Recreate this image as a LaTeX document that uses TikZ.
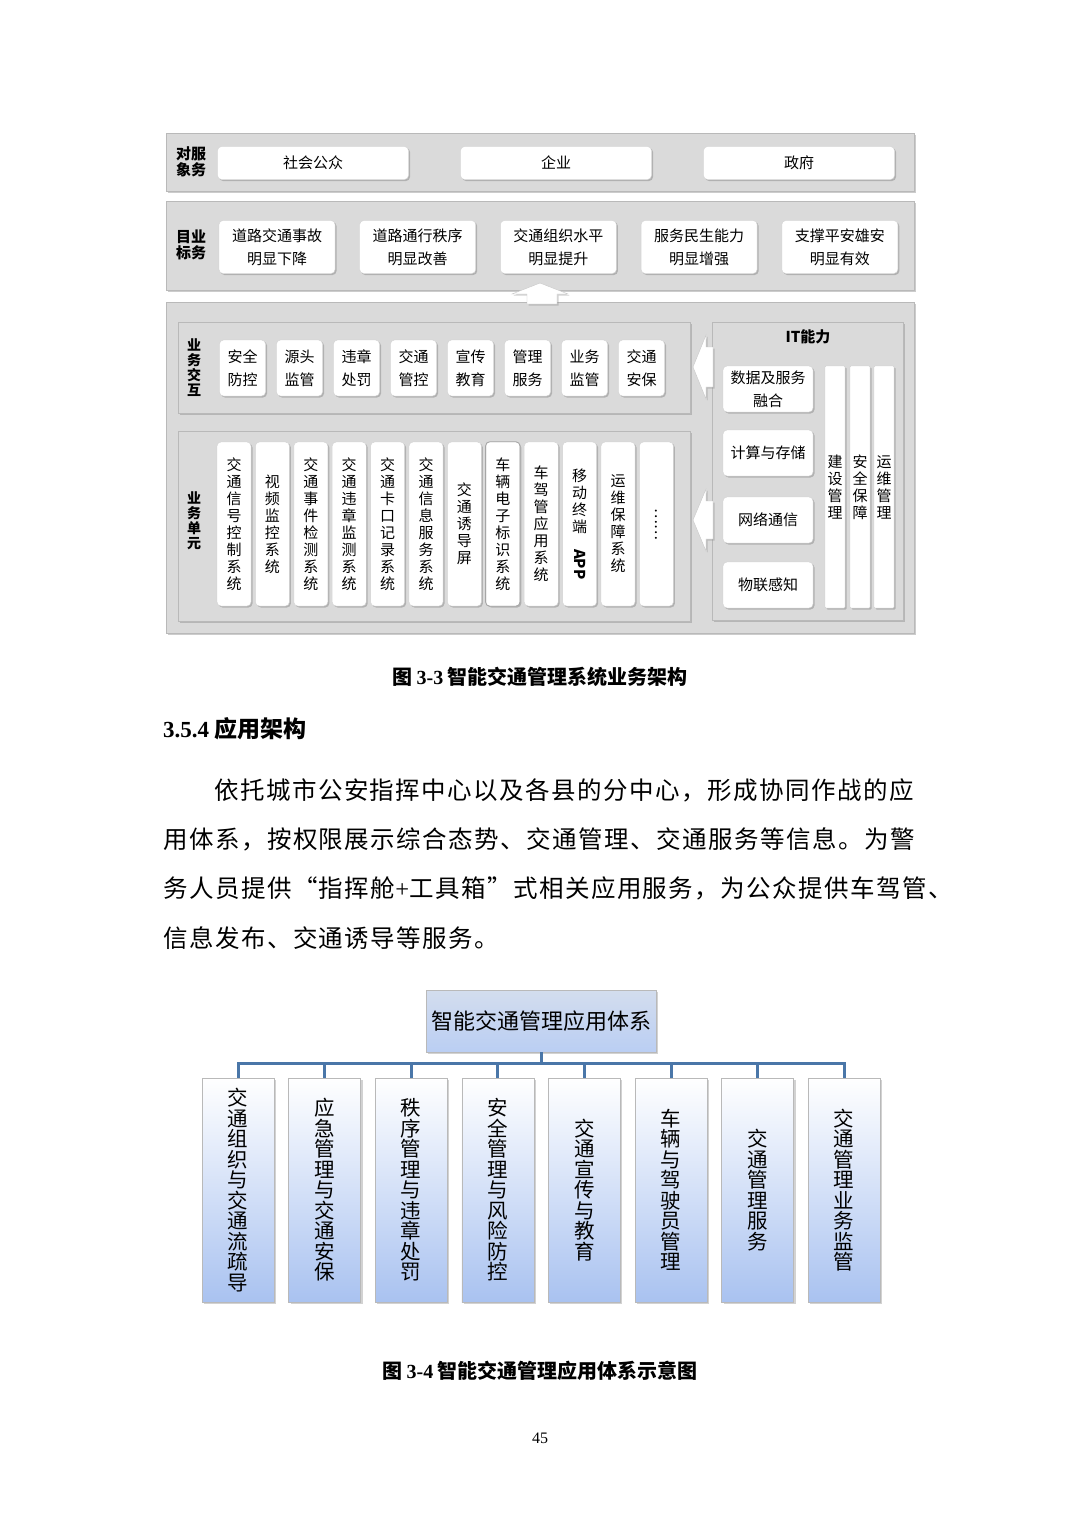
\documentclass[tikz,border=0pt]{standalone}
\usepackage{fontspec}
\setmainfont{Noto Sans CJK SC}
\newfontfamily\tnr{Liberation Serif}
\newfontfamily\bodyfont[LetterSpace=6]{Noto Sans CJK SC}
\usepackage{graphicx}
\usepackage{xcolor}
\usetikzlibrary{shadows,calc}

% stack the characters of a label one under the other
\def\vstack#1{\vstackA#1\relax}
\def\vstackA#1{\ifx\relax#1\else#1\expandafter\vstackB\fi}
\def\vstackB#1{\ifx\relax#1\else\\#1\expandafter\vstackB\fi}

\definecolor{bandgray}{HTML}{DADADA}
\definecolor{busblue}{HTML}{4A76A8}
\definecolor{leafblue}{HTML}{A9C2F0}
\definecolor{roottop}{HTML}{D3DDEE}

\begin{document}
\begin{tikzpicture}[x=1pt, y=-1pt,
  band/.style={draw=gray!55, fill=bandgray, inner sep=0pt,
    drop shadow={shadow xshift=2pt, shadow yshift=-2pt, opacity=.4}},
  cell/.style={draw=gray!35, fill=white, rounded corners=4pt, align=center, inner sep=0pt,
    font=\fontsize{15}{23}\selectfont,
    drop shadow={shadow xshift=1.5pt, shadow yshift=-1.5pt, opacity=.45}},
  col/.style={cell, minimum width=34pt, minimum height=164pt, font=\fontsize{15}{17}\selectfont},
  itcol/.style={cell, rounded corners=1pt, minimum width=20pt, minimum height=242pt, font=\fontsize{15}{17}\selectfont},
  tag/.style={align=center, inner sep=0pt, font=\bfseries\fontsize{15}{15.5}\selectfont},
  blkarr/.style={draw=gray!45, fill=white, drop shadow={shadow xshift=1.5pt, shadow yshift=-1.5pt, opacity=.35}},
  txt/.style={anchor=west, inner sep=0pt, font=\bodyfont\fontsize{24.5}{26}\selectfont},
  root/.style={draw=gray!55, top color=roottop, bottom color=leafblue!80, minimum width=230pt, minimum height=62pt,
    font=\fontsize{22}{22}\selectfont, drop shadow={shadow xshift=2pt, shadow yshift=-2pt, opacity=.35}},
  leaf/.style={draw=gray!55, top color=white, bottom color=leafblue, minimum width=72pt, minimum height=224pt,
    align=center, inner sep=0pt, font=\fontsize{20.5}{20.5}\selectfont,
    drop shadow={shadow xshift=2pt, shadow yshift=-2pt, opacity=.35}},
  bus/.style={draw=busblue, line width=3pt}]

\fill[white] (0,0) rectangle (1080,1526);
\useasboundingbox (0,0) rectangle (1080,1526);

%% figure 3-3
\node[band, minimum width=748pt, minimum height=58pt] (obj) at (540,162) {};
\node[band, minimum width=748pt, minimum height=89pt] (goal) at (540,245.5) {};
\node[band, minimum width=748pt, minimum height=331pt] (biz) at (540,467.5) {};
\node[band, minimum width=512pt, minimum height=91pt] (act) at (434,367.5) {};
\node[band, minimum width=512pt, minimum height=190pt] (unit) at (434,526) {};
\node[band, minimum width=191pt, minimum height=298pt] (itp) at (807.5,471) {};

\node[tag] (objL) at (191,162) {对服\\象务};
\node[tag] (goalL) at (191,245) {目业\\标务};
\node[tag, font=\bfseries\fontsize{14}{15}\selectfont] (actL) at (194,368) {\vstack{业务交互}};
\node[tag, font=\bfseries\fontsize{14}{15}\selectfont] (unitL) at (194,521) {\vstack{业务单元}};
\node[tag] (itL) at (808,337) {IT能力};

\foreach \nm/\x/\t in {pub/313/社会公众, ent/556/企业, gov/799/政府}
  \node[cell, minimum width=191pt, minimum height=33pt] (\nm) at (\x,163) {\t};

\foreach \t [count=\i] in {{道路交通事故\\明显下降}, {道路通行秩序\\明显改善}, {交通组织水平\\明显提升},
    {服务民生能力\\明显增强}, {支撑平安雄安\\明显有效}}
  \node[cell, minimum width=116pt, minimum height=53pt] (g\i) at ({277+140.7*(\i-1)},247) {\t};

\foreach \t [count=\i] in {{安全\\防控}, {源头\\监管}, {违章\\处罚}, {交通\\管控}, {宣传\\教育},
    {管理\\服务}, {业务\\监管}, {交通\\安保}}
  \node[cell, minimum width=46pt, minimum height=56pt] (a\i) at ({242.5+57*(\i-1)},368) {\t};

\foreach \t [count=\i] in {{\vstack{交通信号控制系统}}, {\vstack{视频监控系统}}, {\vstack{交通事件检测系统}},
    {\vstack{交通违章监测系统}}, {\vstack{交通卡口记录系统}}, {\vstack{交通信息服务系统}},
    {\vstack{交通诱导屏}}, {\vstack{车辆电子标识系统}}, {\vstack{车驾管应用系统}},
    {\vstack{移动终端}\\\rotatebox{-90}{\bfseries APP}}, {\vstack{运维保障系统}}, {\rotatebox{-90}{……}}}
  \node[col] (u\i) at ({234+38.4*(\i-1)},524) {\t};
\draw[gray!70, line width=0.8pt, rounded corners=4pt] (u8.north west) rectangle (u8.south east);

\foreach \t/\y [count=\i] in {{数据及服务\\融合}/389, 计算与存储/453, 网络通信/520, 物联感知/585}
  \node[cell, minimum width=90pt, minimum height=46pt] (it\i) at (768,\y) {\t};
\foreach \t/\x [count=\i] in {建设管理/835, 安全保障/860, 运维管理/884}
  \node[itcol] (itc\i) at (\x,487) {\expandafter\vstack\expandafter{\t}};

% block arrows
\draw[blkarr] (540,283) -- (568,294) -- (557,294) -- (557,304) -- (527,304) -- (527,294) -- (512,294) -- cycle;
\draw[blkarr] (693,367) -- (706,335) -- (706,347) -- (713,347) -- (713,387) -- (706,387) -- (706,399) -- cycle;
\draw[blkarr] (693,520) -- (706,489) -- (706,501) -- (713,501) -- (713,539) -- (706,539) -- (706,551) -- cycle;

\node[inner sep=0pt, font=\bfseries\fontsize{20}{20}\selectfont] (cap1) at (540,677)
  {图 {\tnr 3-3} 智能交通管理系统业务架构};

%% text
\node[anchor=west, inner sep=0pt, font=\bfseries\fontsize{23}{23}\selectfont] (sec) at (163,729) {{\tnr 3.5.4} 应用架构};
\node[txt] (p1) at (214,790) {依托城市公安指挥中心以及各县的分中心，形成协同作战的应};
\node[txt] (p2) at (163,839) {用体系，按权限展示综合态势、交通管理、交通服务等信息。为警};
\node[txt] (p3) at (163,888) {务人员提供“指挥舱{\tnr +}工具箱”式相关应用服务，为公众提供车驾管、};
\node[txt] (p4) at (163,938) {信息发布、交通诱导等服务。};

%% figure 3-4
\node[root] (app) at (541,1021) {智能交通管理应用体系};
\foreach \t [count=\i] in {交通组织与交通流疏导, 应急管理与交通安保, 秩序管理与违章处罚, 安全管理与风险防控,
    交通宣传与教育, 车辆与驾驶员管理, 交通管理服务, 交通管理业务监管}
  \node[leaf] (b\i) at ({238+86.6*(\i-1)},1190) {\expandafter\vstack\expandafter{\t}};
\foreach \i in {1,...,8}
  \draw[bus] (app.south) -- ++(0,11) -| (b\i.north);

\node[inner sep=0pt, font=\bfseries\fontsize{20}{20}\selectfont] (cap2) at (540,1371)
  {图 {\tnr 3-4} 智能交通管理应用体系示意图};
\node[inner sep=0pt, font=\tnr\fontsize{16}{16}\selectfont] (pg) at (540,1438) {45};
\end{tikzpicture}
\end{document}
